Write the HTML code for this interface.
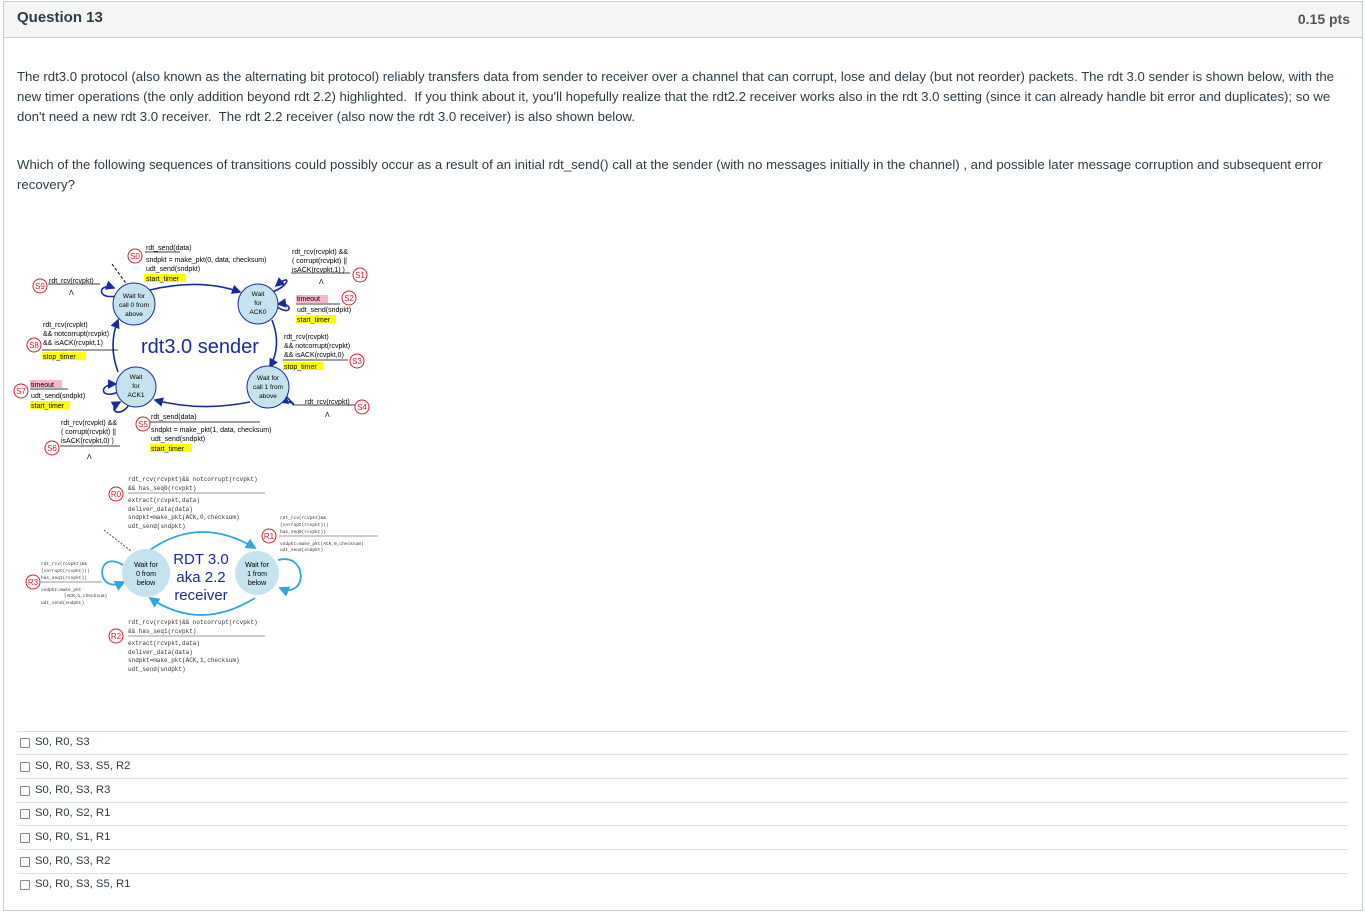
<!DOCTYPE html>
<html><head><meta charset="utf-8"><style>
body{margin:0;width:1365px;height:912px;background:#fff;font-family:"Liberation Sans",sans-serif;color:#2d3b45;position:relative;overflow:hidden}
.frame{position:absolute;left:3px;top:1px;width:1358px;height:908px;border:1px solid #c7cdd1}
.hdr{position:absolute;left:4px;top:2px;width:1358px;height:35px;background:#f5f5f5;border-bottom:1px solid #c7cdd1}
.t{position:absolute;font-size:13.2px;line-height:20px;white-space:nowrap}
.a{font-size:11.3px}
.ans{position:absolute;left:17px;width:1331px;border-top:1px solid #dde1e3}
.cb{position:absolute;left:20px;width:8px;height:8px;border:1px solid #888;border-radius:1px}
svg{position:absolute;left:0;top:0}
svg text{font-family:"Liberation Sans",sans-serif}
.m{font-family:"Liberation Mono",monospace!important;font-size:6px}
</style></head><body>
<div class="frame"></div>
<div class="hdr"></div>
<div class="t" style="left:17px;top:8px;font-size:15px;font-weight:bold">Question 13</div>
<div class="t" style="right:15px;top:9px;font-size:14px;font-weight:bold;color:#555">0.15 pts</div>
<div class="t" style="left:17px;top:67px">The rdt3.0 protocol (also known as the alternating bit protocol) reliably transfers data from sender to receiver over a channel that can corrupt, lose and delay (but not reorder) packets. The rdt 3.0 sender is shown below, with the<br>new timer operations (the only addition beyond rdt 2.2) highlighted.&nbsp; If you think about it, you'll hopefully realize that the rdt2.2 receiver works also in the rdt 3.0 setting (since it can already handle bit error and duplicates); so we<br>don't need a new rdt 3.0 receiver.&nbsp; The rdt 2.2 receiver (also now the rdt 3.0 receiver) is also shown below.</div>
<div class="t" style="left:17px;top:155px">Which of the following sequences of transitions could possibly occur as a result of an initial rdt_send() call at the sender (with no messages initially in the channel) , and possible later message corruption and subsequent error<br>recovery?</div>

<div class="ans" style="top:731px"></div><div class="ans" style="top:754px"></div><div class="ans" style="top:778px"></div><div class="ans" style="top:802px"></div><div class="ans" style="top:825px"></div><div class="ans" style="top:849px"></div><div class="ans" style="top:873px"></div>
<div class="cb" style="top:738px"></div><div class="t a" style="left:35px;top:732px">S0, R0, S3</div>
<div class="cb" style="top:762px"></div><div class="t a" style="left:35px;top:756px">S0, R0, S3, S5, R2</div>
<div class="cb" style="top:786px"></div><div class="t a" style="left:35px;top:780px">S0, R0, S3, R3</div>
<div class="cb" style="top:809px"></div><div class="t a" style="left:35px;top:803px">S0, R0, S2, R1</div>
<div class="cb" style="top:833px"></div><div class="t a" style="left:35px;top:827px">S0, R0, S1, R1</div>
<div class="cb" style="top:857px"></div><div class="t a" style="left:35px;top:851px">S0, R0, S3, R2</div>
<div class="cb" style="top:880px"></div><div class="t a" style="left:35px;top:874px">S0, R0, S3, S5, R1</div>

<svg width="1365" height="912" font-size="7">
<defs><marker id="a" markerWidth="6" markerHeight="6" refX="5" refY="3" orient="auto"><path d="M0,0L6,3L0,6z" fill="#1a2a9c"/></marker>
<marker id="b" markerWidth="6" markerHeight="6" refX="5" refY="3" orient="auto"><path d="M0,0L6,3L0,6z" fill="#29a8e0"/></marker></defs>
<g stroke="#1a2a9c" stroke-width="1.6" fill="none" marker-end="url(#a)">
<path d="M150,290 Q200,278 240,292"/>
<path d="M272,320 Q282,345 270,367"/>
<path d="M250,402 Q200,412 155,400"/>
<path d="M118,372 Q108,345 118,320"/>
<path d="M116,296 C96,300 98,282 114,288"/>
<path d="M272,292 C290,286 292,272 276,286"/>
<path d="M276,306 C292,318 294,302 278,304"/>
<path d="M118,392 C100,400 98,384 116,384"/>
<path d="M128,406 C120,418 106,410 120,402"/>
<path d="M286,396 C300,412 292,398 280,402"/>
</g>
<path d="M112,264 L128,286" stroke="#000" stroke-dasharray="3,2" fill="none"/>
<g fill="#c5e3ef" stroke="#1a2a9c" stroke-width="1"><circle cx="134" cy="304" r="21"/><circle cx="258" cy="304" r="20"/><circle cx="136" cy="387" r="20"/><circle cx="268" cy="387" r="21"/></g>
<g font-size="6.5" text-anchor="middle" fill="#000">
<text x="134" y="298">Wait for</text><text x="134" y="307">call 0 from</text><text x="134" y="316">above</text>
<text x="258" y="296">Wait</text><text x="258" y="305">for</text><text x="258" y="314">ACK0</text>
<text x="136" y="379">Wait</text><text x="136" y="388">for</text><text x="136" y="397">ACK1</text>
<text x="268" y="380">Wait for</text><text x="268" y="389">call 1 from</text><text x="268" y="398">above</text>
</g>
<text x="141" y="353" font-size="20" fill="#1a2a9c">rdt3.0 sender</text>
<g fill="#fff" stroke="#d0202a"><circle cx="135" cy="256" r="7"/><circle cx="360" cy="275" r="7"/><circle cx="349" cy="298" r="7"/><circle cx="357" cy="361" r="7"/><circle cx="362" cy="407" r="7"/><circle cx="143" cy="424" r="7"/><circle cx="52" cy="448" r="7"/><circle cx="21" cy="391" r="7"/><circle cx="34" cy="345" r="7"/><circle cx="40" cy="286" r="7"/>
<circle cx="116" cy="494" r="7"/><circle cx="269" cy="536" r="7"/><circle cx="33" cy="582" r="7"/><circle cx="116" cy="636" r="7"/></g>
<g fill="#d0202a" font-size="8" text-anchor="middle"><text x="135" y="259">S0</text><text x="360" y="278">S1</text><text x="349" y="301">S2</text><text x="357" y="364">S3</text><text x="362" y="410">S4</text><text x="143" y="427">S5</text><text x="52" y="451">S6</text><text x="21" y="394">S7</text><text x="34" y="348">S8</text><text x="40" y="289">S9</text>
<text x="116" y="497">R0</text><text x="269" y="539">R1</text><text x="33" y="585">R3</text><text x="116" y="639">R2</text></g>
<g fill="#ff0"><rect x="144" y="274" width="42" height="8"/><rect x="296" y="315" width="40" height="8"/><rect x="283" y="362" width="40" height="8"/><rect x="42" y="352" width="44" height="8"/><rect x="30" y="401" width="40" height="8"/><rect x="150" y="444" width="42" height="8"/></g>
<g fill="#f7b6cd"><rect x="296" y="295" width="32" height="8"/><rect x="30" y="380" width="32" height="8"/></g>
<g stroke="#000" stroke-width=".7"><line x1="145" y1="252" x2="180" y2="252"/><line x1="291" y1="273" x2="350" y2="273"/><line x1="296" y1="304" x2="340" y2="304"/><line x1="283" y1="360" x2="348" y2="360"/><line x1="292" y1="405" x2="355" y2="405"/><line x1="150" y1="422" x2="260" y2="422"/><line x1="60" y1="446" x2="120" y2="446"/><line x1="30" y1="389" x2="68" y2="389"/><line x1="42" y1="350" x2="118" y2="350"/><line x1="48" y1="284" x2="100" y2="284"/></g>
<g fill="#000" font-size="7">
<text x="146" y="250">rdt_send(data)</text><text x="146" y="262">sndpkt = make_pkt(0, data, checksum)</text><text x="146" y="271">udt_send(sndpkt)</text><text x="146" y="281">start_timer</text>
<text x="292" y="254">rdt_rcv(rcvpkt) &amp;&amp;</text><text x="292" y="263">( corrupt(rcvpkt) ||</text><text x="292" y="272">isACK(rcvpkt,1) )</text><text x="319" y="284">Λ</text>
<text x="297" y="301">timeout</text><text x="297" y="312">udt_send(sndpkt)</text><text x="297" y="322">start_timer</text>
<text x="284" y="339">rdt_rcv(rcvpkt)</text><text x="284" y="348">&amp;&amp; notcorrupt(rcvpkt)</text><text x="284" y="357">&amp;&amp; isACK(rcvpkt,0)</text><text x="284" y="369">stop_timer</text>
<text x="305" y="404">rdt_rcv(rcvpkt)</text><text x="325" y="417">Λ</text>
<text x="151" y="419">rdt_send(data)</text><text x="151" y="432">sndpkt = make_pkt(1, data, checksum)</text><text x="151" y="441">udt_send(sndpkt)</text><text x="151" y="451">start_timer</text>
<text x="61" y="425">rdt_rcv(rcvpkt) &amp;&amp;</text><text x="61" y="434">( corrupt(rcvpkt) ||</text><text x="61" y="443">isACK(rcvpkt,0) )</text><text x="87" y="459">Λ</text>
<text x="31" y="387">timeout</text><text x="31" y="398">udt_send(sndpkt)</text><text x="31" y="408">start_timer</text>
<text x="43" y="327">rdt_rcv(rcvpkt)</text><text x="43" y="336">&amp;&amp; notcorrupt(rcvpkt)</text><text x="43" y="345">&amp;&amp; isACK(rcvpkt,1)</text><text x="43" y="359">stop_timer</text>
<text x="49" y="283">rdt_rcv(rcvpkt)</text><text x="69" y="295">Λ</text>
</g>
<g stroke="#29a8e0" stroke-width="1.8" fill="none" marker-end="url(#b)">
<path d="M150,550 Q200,515 255,548"/>
<path d="M255,598 Q200,632 150,598"/>
<path d="M123,565 C95,548 95,596 124,582"/>
<path d="M278,560 C308,552 308,600 280,588"/>
</g>
<path d="M104,530 L131,551" stroke="#555" stroke-dasharray="2,1.5" fill="none"/>
<g fill="#c5e3ef"><circle cx="146" cy="573" r="24"/><circle cx="257" cy="573" r="22"/></g>
<g font-size="7" text-anchor="middle" fill="#000"><text x="146" y="567">Wait for</text><text x="146" y="576">0 from</text><text x="146" y="585">below</text><text x="257" y="567">Wait for</text><text x="257" y="576">1 from</text><text x="257" y="585">below</text></g>
<g font-size="15" text-anchor="middle" fill="#1a2a9c"><text x="201" y="564">RDT 3.0</text><text x="201" y="582">aka 2.2</text><text x="201" y="600">receiver</text></g>
<g stroke="#777" stroke-width=".7"><line x1="128" y1="493" x2="265" y2="493"/><line x1="279" y1="536" x2="378" y2="536"/><line x1="41" y1="582" x2="102" y2="582"/><line x1="128" y1="636" x2="265" y2="636"/></g>
<g fill="#333">
<text class="m" x="128" y="481">rdt_rcv(rcvpkt)&amp;&amp; notcorrupt(rcvpkt)</text><text class="m" x="128" y="490">&amp;&amp; has_seq0(rcvpkt)</text>
<text class="m" x="128" y="502">extract(rcvpkt,data)</text><text class="m" x="128" y="511">deliver_data(data)</text><text class="m" x="128" y="519">sndpkt=make_pkt(ACK,0,checksum)</text><text class="m" x="128" y="528">udt_send(sndpkt)</text>
<text class="m" x="280" y="519" style="font-size:4.5px">rdt_rcv(rcvpkt)&amp;&amp;</text><text class="m" x="280" y="526" style="font-size:4.5px">(corrupt(rcvpkt)||</text><text class="m" x="280" y="533" style="font-size:4.5px">has_seq0(rcvpkt))</text><text class="m" x="280" y="545" style="font-size:4.5px">sndpkt=make_pkt(ACK,0,checksum)</text><text class="m" x="280" y="551" style="font-size:4.5px">udt_send(sndpkt)</text>
<text class="m" x="41" y="565" style="font-size:4.5px">rdt_rcv(rcvpkt)&amp;&amp;</text><text class="m" x="41" y="572" style="font-size:4.5px">(corrupt(rcvpkt)||</text><text class="m" x="41" y="579" style="font-size:4.5px">has_seq1(rcvpkt))</text><text class="m" x="41" y="591" style="font-size:4.5px">sndpkt=make_pkt</text><text class="m" x="64" y="597" style="font-size:4.5px">(ACK,1,checksum)</text><text class="m" x="41" y="604" style="font-size:4.5px">udt_send(sndpkt)</text>
<text class="m" x="128" y="624">rdt_rcv(rcvpkt)&amp;&amp; notcorrupt(rcvpkt)</text><text class="m" x="128" y="633">&amp;&amp; has_seq1(rcvpkt)</text>
<text class="m" x="128" y="645">extract(rcvpkt,data)</text><text class="m" x="128" y="654">deliver_data(data)</text><text class="m" x="128" y="662">sndpkt=make_pkt(ACK,1,checksum)</text><text class="m" x="128" y="671">udt_send(sndpkt)</text>
</g>
</svg>
</body></html>
